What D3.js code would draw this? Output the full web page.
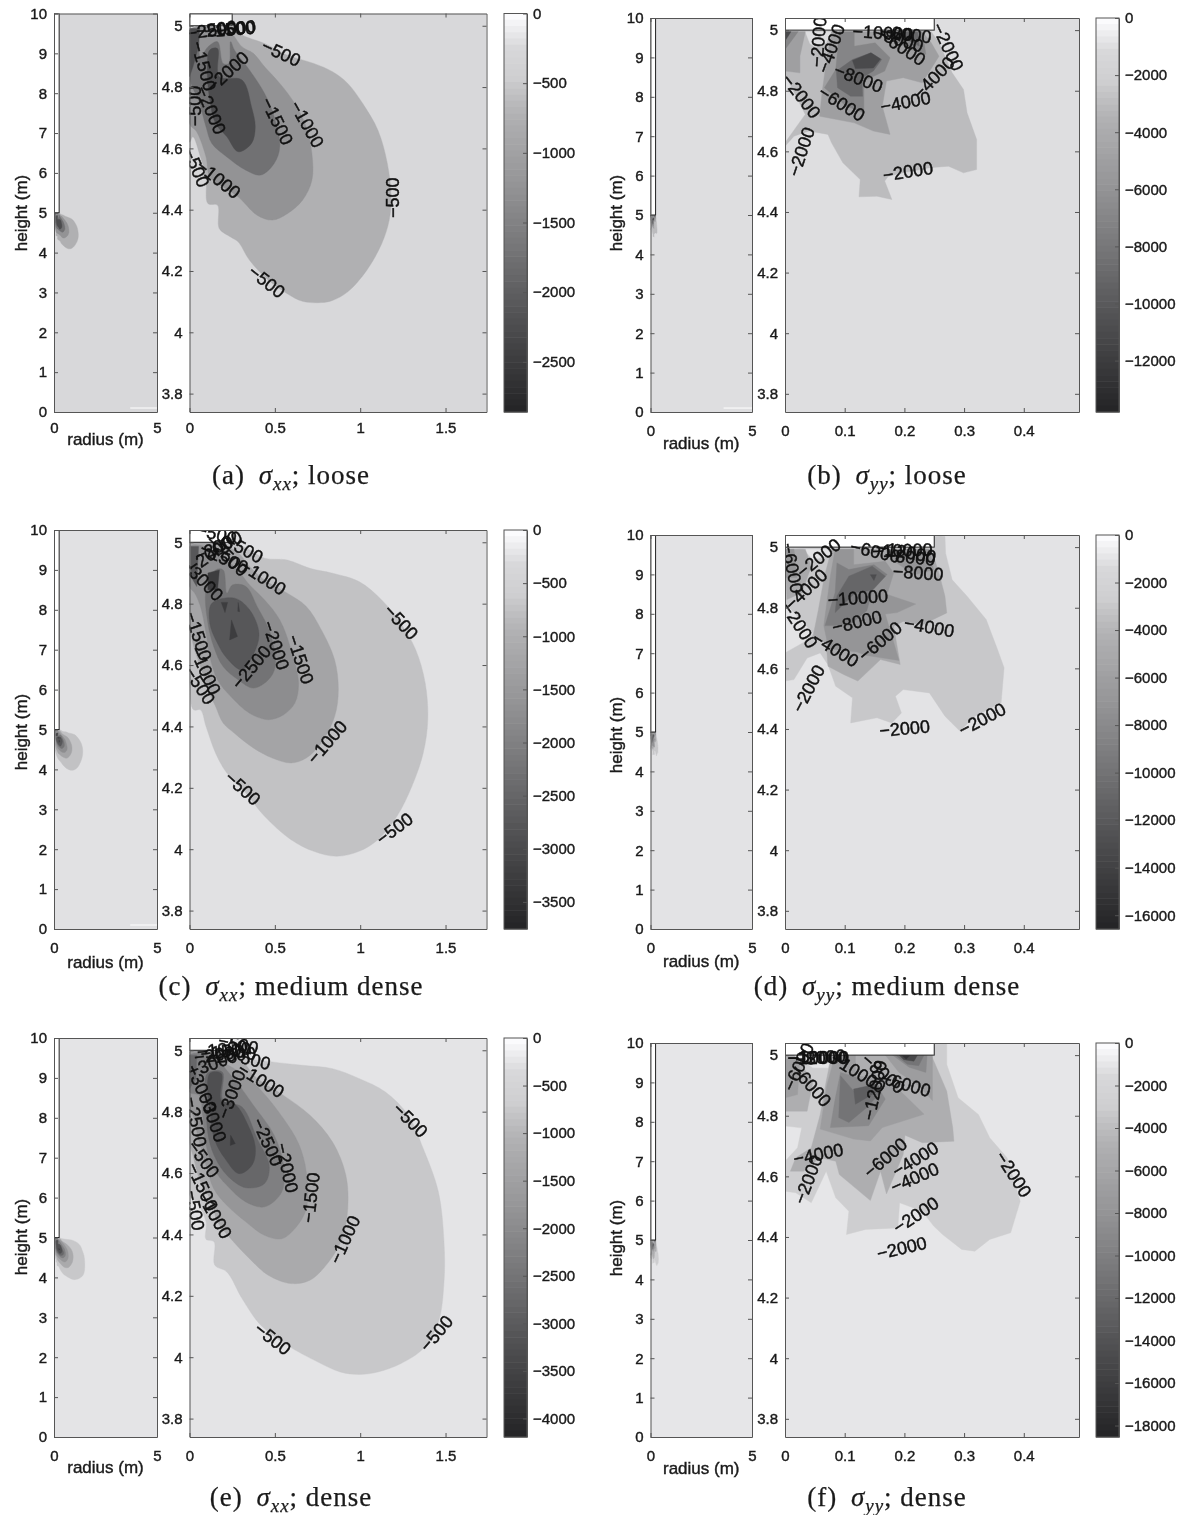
<!DOCTYPE html>
<html lang="en">
<head>
<meta charset="UTF-8">
<title>Stress contours</title>
<style>
  html, body { margin: 0; background: #fff; }
  svg { display: block; filter: blur(0.4px); }
  text { font-family: "Liberation Sans", sans-serif; fill: #1a1a1a; }
  .tick text { font-size: 15px; stroke: #1a1a1a; stroke-width: .4px; }
  .axlabel { font-size: 17px; stroke: #1a1a1a; stroke-width: .4px; }
  .clabel { font-size: 18px; fill: #111; stroke: #111; stroke-width: .45px; }
  .caption, .caption tspan { font-family: "Liberation Serif", serif; font-size: 27px; letter-spacing: 1px; stroke: #222; stroke-width: .25px; }
  .domain, .tick line { stroke: #555; }
</style>
</head>
<body>
<svg id="chart" width="1178" height="1515"></svg>
<script src="https://cdnjs.cloudflare.com/ajax/libs/d3/7.8.5/d3.min.js"></script>
<script>
// contour bands: [level, [[radius, height], ...]]
const bandsA = [
  [-500, [[.246,4.986],[.33,4.964],[.44,4.942],[.573,4.904],[.728,4.877],[.838,4.85],[.927,4.812],[1.015,4.746],[1.104,4.659],[1.159,4.551],[1.181,4.442],[1.17,4.366],[1.126,4.289],[1.038,4.202],[.927,4.132],[.838,4.104],[.772,4.097],[.662,4.101],[.573,4.126],[.462,4.17],[.352,4.235],[.285,4.295],[.241,4.311],[.175,4.338],[.164,4.415],[.108,4.42],[.097,4.507],[.064,4.572],[.02,4.638],[0,4.62],[0,4.986]]],
  [-1000, [[.246,4.975],[.308,4.931],[.374,4.91],[.44,4.866],[.529,4.812],[.617,4.746],[.684,4.67],[.717,4.583],[.717,4.496],[.662,4.431],[.573,4.387],[.485,4.366],[.396,4.382],[.285,4.442],[.197,4.474],[.119,4.507],[.097,4.572],[.042,4.654],[0,4.681],[0,4.986],[.197,4.986]]],
  [-1500, [[.241,4.948],[.263,4.921],[.352,4.855],[.44,4.779],[.496,4.703],[.529,4.605],[.496,4.551],[.418,4.513],[.33,4.529],[.219,4.572],[.131,4.616],[.097,4.67],[.053,4.757],[.009,4.812],[0,4.866],[0,4.986],[.042,4.986],[.064,4.899],[.108,4.931],[.164,4.948],[.197,4.877],[.23,4.877]]],
  [-2000, [[.119,4.921],[.164,4.926],[.175,4.834],[.308,4.823],[.363,4.736],[.385,4.67],[.363,4.616],[.285,4.589],[.219,4.638],[.153,4.681],[.119,4.757],[.104,4.866]]],
  [-2000, [[0,4.991],[.06,4.991],[.053,4.931],[.02,4.866],[0,4.834]]]
];
const bandsB = [
  [-2000, [[.245,4.995],[.258,4.958],[.28,4.859],[.299,4.804],[.305,4.727],[.321,4.639],[.321,4.54],[.299,4.529],[.274,4.551],[.242,4.546],[.198,4.529],[.173,4.518],[.167,4.502],[.179,4.441],[.154,4.452],[.124,4.45],[.126,4.507],[.097,4.562],[.078,4.628],[.072,4.656],[.04,4.667],[.015,4.65],[0,4.617],[0,4.628],[.034,4.722],[0,4.854],[0,4.997]]],
  [0, [[.034,4.995],[.078,4.995],[.069,4.958],[.05,4.945],[.042,4.955]]],
  [-4000, [[.078,4.995],[.23,4.995],[.245,4.958],[.258,4.914],[.23,4.826],[.198,4.843],[.17,4.832],[.163,4.749],[.176,4.656],[.148,4.667],[.116,4.694],[.058,4.716],[.062,4.793],[.069,4.892]]],
  [-4000, [[0,4.995],[.034,4.995],[.025,4.914],[.025,4.859],[0,4.865]]],
  [-6000, [[.091,4.995],[.116,4.995],[.116,4.947],[.151,4.958],[.176,4.909],[.167,4.865],[.132,4.832],[.132,4.727],[.103,4.749],[.066,4.81],[.085,4.87]]],
  [-6000, [[.173,4.995],[.23,4.995],[.236,4.92],[.211,4.936],[.179,4.969]]],
  [-6000, [[0,4.995],[.022,4.995],[0,4.936]]],
  [-8000, [[.113,4.903],[.144,4.925],[.162,4.903],[.148,4.865],[.129,4.843],[.13,4.782],[.11,4.782],[.088,4.81],[.086,4.865]]],
  [-8000, [[.185,4.995],[.222,4.995],[.225,4.947],[.204,4.969]]],
  [-10000, [[.113,4.9],[.144,4.925],[.16,4.905],[.148,4.875],[.118,4.873]]],
  [-10000, [[0,4.995],[.01,4.995],[0,4.964]]]
];
const bandsC = [
  [-500, [[.263,4.997],[.352,4.975],[.44,4.948],[.573,4.942],[.706,4.915],[.838,4.899],[.993,4.872],[1.126,4.812],[1.237,4.736],[1.325,4.65],[1.381,4.541],[1.396,4.422],[1.369,4.313],[1.303,4.205],[1.215,4.107],[1.104,4.031],[.993,3.993],[.861,3.977],[.728,3.993],[.595,4.031],[.44,4.107],[.33,4.183],[.219,4.248],[.153,4.313],[.097,4.4],[.064,4.454],[.024,4.454],[0,4.541],[0,4.997]]],
  [-1000, [[.263,4.975],[.352,4.921],[.44,4.877],[.573,4.834],[.684,4.791],[.772,4.715],[.85,4.617],[.872,4.519],[.85,4.432],[.772,4.346],[.684,4.297],[.595,4.281],[.485,4.297],[.374,4.33],[.263,4.378],[.197,4.411],[.153,4.465],[.108,4.519],[.064,4.595],[.02,4.671],[0,4.758],[0,4.997]]],
  [-1500, [[.263,4.921],[.352,4.861],[.44,4.812],[.529,4.747],[.595,4.65],[.639,4.541],[.617,4.476],[.551,4.438],[.462,4.422],[.352,4.443],[.241,4.498],[.164,4.552],[.119,4.628],[.097,4.704],[.064,4.791],[.031,4.834],[0,4.856],[0,4.986],[.086,4.986]]],
  [-2000, [[.252,4.861],[.33,4.856],[.396,4.791],[.473,4.704],[.502,4.595],[.462,4.552],[.374,4.525],[.285,4.552],[.197,4.595],[.142,4.66],[.108,4.736],[.097,4.845],[.153,4.91],[.197,4.91],[.219,4.834]]],
  [-2500, [[.131,4.801],[.263,4.818],[.352,4.78],[.407,4.704],[.378,4.639],[.308,4.584],[.219,4.622],[.164,4.671],[.119,4.736]]],
  [-2500, [[.009,4.986],[.053,4.986],[.042,4.856],[.009,4.888]]],
  [-3000, [[.186,4.804],[.223,4.804],[.208,4.771]]],
  [-3000, [[.246,4.747],[.281,4.693],[.235,4.682]]],
  [-3000, [[.285,4.804],[.294,4.774],[.283,4.775]]],
  [-3000, [[.108,4.9],[.175,4.91],[.164,4.845],[.108,4.845]]]
];
const bandsD = [
  [-2000, [[.261,5.037],[.268,5.035],[.269,4.98],[.28,4.892],[.305,4.838],[.337,4.761],[.356,4.662],[.367,4.602],[.362,4.486],[.318,4.442],[.293,4.393],[.268,4.442],[.242,4.519],[.198,4.53],[.185,4.508],[.195,4.453],[.179,4.42],[.154,4.437],[.11,4.42],[.113,4.503],[.085,4.541],[.072,4.612],[.059,4.651],[.037,4.634],[.015,4.563],[0,4.558],[0,4.651],[.04,4.695],[.047,4.717],[0,4.816],[0,4.993]]],
  [0, [[.031,4.993],[.085,4.993],[.078,4.975],[.047,4.958]]],
  [-4000, [[.078,4.993],[.245,4.993],[.258,4.914],[.268,4.838],[.271,4.783],[.23,4.744],[.198,4.755],[.182,4.739],[.193,4.613],[.16,4.629],[.122,4.558],[.098,4.58],[.072,4.607],[.069,4.684],[.047,4.706],[.056,4.794],[.066,4.903]]],
  [-4000, [[0,4.993],[.034,4.993],[.044,4.936],[.028,4.849],[.003,4.827]]],
  [-6000, [[.084,4.993],[.115,4.993],[.115,4.942],[.168,4.953],[.182,4.915],[.171,4.844],[.219,4.812],[.188,4.784],[.168,4.779],[.191,4.626],[.135,4.643],[.121,4.654],[.073,4.665],[.065,4.741],[.076,4.904]]],
  [-6000, [[.179,4.993],[.242,4.993],[.249,4.925],[.217,4.909],[.179,4.958]]],
  [-6000, [[0,4.993],[.015,4.993],[.02,4.9],[0,4.9]]],
  [-8000, [[.087,4.948],[.107,4.926],[.149,4.942],[.171,4.91],[.146,4.855],[.137,4.79],[.107,4.741],[.067,4.741],[.084,4.85]]],
  [-10000, [[.107,4.904],[.146,4.937],[.168,4.904],[.146,4.858],[.118,4.85],[.084,4.784],[.087,4.839]]],
  [-12000, [[.143,4.909],[.153,4.909],[.149,4.89]]]
];
const bandsE = [
  [-500, [[.263,4.995],[.352,4.973],[.485,4.962],[.662,4.951],[.838,4.94],[.993,4.908],[1.148,4.864],[1.281,4.788],[1.369,4.68],[1.458,4.539],[1.491,4.376],[1.491,4.245],[1.458,4.115],[1.369,4.028],[1.237,3.979],[1.104,3.952],[.993,3.944],[.883,3.952],[.75,3.985],[.573,4.039],[.418,4.104],[.308,4.191],[.219,4.278],[.148,4.3],[.144,4.376],[.097,4.384],[.097,4.441],[.042,4.506],[0,4.528],[0,4.995]]],
  [-1000, [[.285,4.973],[.396,4.908],[.551,4.853],[.706,4.788],[.838,4.701],[.916,4.593],[.927,4.484],[.894,4.387],[.816,4.311],[.706,4.251],[.595,4.24],[.462,4.267],[.352,4.321],[.241,4.387],[.164,4.441],[.131,4.506],[.064,4.571],[.02,4.658],[0,4.701],[0,4.995]]],
  [-1500, [[.308,4.924],[.418,4.87],[.551,4.777],[.639,4.696],[.684,4.604],[.684,4.484],[.617,4.419],[.54,4.386],[.44,4.397],[.33,4.441],[.219,4.495],[.142,4.549],[.097,4.625],[.053,4.712],[.02,4.788],[0,4.821],[0,4.995]]],
  [-2000, [[.274,4.897],[.374,4.821],[.496,4.723],[.551,4.625],[.54,4.538],[.44,4.49],[.33,4.506],[.219,4.56],[.142,4.615],[.097,4.691],[.075,4.799],[.06,4.853],[0,4.864],[0,4.984],[.131,4.978]]],
  [-2500, [[.104,4.924],[.192,4.929],[.197,4.837],[.308,4.815],[.396,4.712],[.467,4.625],[.44,4.566],[.33,4.552],[.219,4.593],[.153,4.647],[.113,4.712],[.097,4.821]]],
  [-2500, [[0,4.984],[.042,4.984],[.038,4.908],[0,4.875]]],
  [-3000, [[.119,4.924],[.186,4.924],[.186,4.837],[.268,4.823],[.341,4.758],[.385,4.687],[.369,4.628],[.29,4.598],[.208,4.647],[.148,4.707],[.122,4.788]]],
  [-3500, [[.241,4.723],[.268,4.696],[.239,4.69]]]
];
const bandsF = [
  [-2000, [[.261,5.04],[.271,5.04],[.271,4.969],[.29,4.859],[.324,4.804],[.343,4.727],[.372,4.661],[.394,4.518],[.378,4.414],[.343,4.392],[.318,4.353],[.296,4.359],[.264,4.408],[.249,4.436],[.23,4.485],[.192,4.513],[.189,4.43],[.135,4.425],[.103,4.408],[.107,4.485],[.085,4.529],[.069,4.617],[.044,4.513],[.018,4.546],[0,4.551],[0,4.65],[.021,4.694],[.028,4.76],[0,4.766],[0,5]]],
  [0, [[.015,5],[.078,5],[.072,4.958],[.047,4.958]]],
  [-4000, [[.078,5],[.245,5],[.271,4.881],[.281,4.76],[.283,4.716],[.23,4.711],[.201,4.736],[.198,4.672],[.17,4.542],[.16,4.617],[.143,4.52],[.091,4.606],[.085,4.65],[.059,4.661],[.031,4.617],[.009,4.617],[.018,4.661],[.044,4.694],[.059,4.804],[.069,4.914]]],
  [-4000, [[0,5],[.015,5],[.047,4.914],[.037,4.815],[0,4.815]]],
  [-6000, [[.084,5],[.118,5],[.118,4.932],[.173,4.92],[.233,4.805],[.163,4.761],[.143,4.717],[.115,4.723],[.059,4.756],[.07,4.899]]],
  [-6000, [[.168,5],[.247,5],[.247,4.85],[.224,4.899],[.191,4.943]]],
  [-6000, [[0,4.986],[.025,4.986],[.021,4.87],[0,4.859]]],
  [-8000, [[.076,4.761],[.14,4.767],[.168,4.855],[.154,4.899],[.121,4.926],[.093,4.943],[.084,4.855]]],
  [-8000, [[.18,5],[.238,5],[.236,4.943],[.208,4.96]]],
  [-10000, [[.093,4.932],[.115,4.882],[.157,4.899],[.16,4.877],[.137,4.827],[.107,4.778],[.09,4.794]]],
  [-10000, [[.185,5],[.233,5],[.224,4.965],[.205,4.97]]],
  [-12000, [[.115,4.888],[.152,4.904],[.152,4.877],[.118,4.838]]],
  [-14000, [[.191,5],[.222,5],[.216,4.98],[.199,4.985]]],
  [-16000, [[.195,5],[.21,5],[.203,4.987]]]
];

// clabel text: [text, x start, y start, x end, y end]
const labelsA = [
  ["-500",.423,4.939,.65,4.882],["-1000",.613,4.752,.761,4.605],["-1500",.447,4.763,.577,4.614],
  ["-2000",.119,4.795,.329,4.904],["-2000",.075,4.79,.175,4.659],["-1500",.046,4.942,.119,4.795],
  ["-500",1.192,4.376,1.192,4.502],["-500",.352,4.208,.551,4.121],["-1000",.053,4.551,.285,4.447],
  ["-500",.004,4.583,.075,4.491],["-500",.031,4.676,.031,4.801],["-2500",.064,4.98,.197,4.991],
  ["-2000",.108,4.984,.263,4.991],["-1500",.153,4.984,.319,4.991],["-500",.208,4.986,.334,4.995]
];
const labelsB = [
  ["-2000",.001,4.848,.053,4.716],["-2000",.015,4.524,.04,4.672],["-6000",.058,4.802,.132,4.711],
  ["-8000",.083,4.872,.163,4.81],["-4000",.162,4.747,.242,4.777],["-2000",.165,4.52,.247,4.546],
  ["-4000",.225,4.793,.274,4.892],["-2000",.255,5.019,.29,4.87],["-2000",.053,4.887,.059,5.035],
  ["-4000",.064,4.865,.091,5.013],["-10000",.124,4.995,.204,4.986],["-8000",.154,4.991,.227,4.947],
  ["-6000",.167,4.98,.227,4.903],["-8000",.179,4.991,.227,4.98]
];
const labelsC = [
  ["-500",1.153,4.791,1.325,4.688],["-1000",.71,4.286,.905,4.411],["-500",.215,4.245,.407,4.15],
  ["-500",1.104,4.026,1.299,4.107],["-1500",.602,4.698,.695,4.539],["-2000",.458,4.742,.551,4.587],
  ["-2500",.285,4.541,.44,4.644],["-1500",.004,4.771,.097,4.617],["-1000",.042,4.644,.142,4.519],
  ["-500",0,4.584,.119,4.481],["-500",.064,5.04,.252,5.013],["-1000",.33,4.921,.529,4.85],
  ["-500",.219,5.008,.418,4.948],["-2000",.064,4.959,.274,5.013],["-1500",.097,4.975,.308,4.921],
  ["-2000",.02,4.921,.219,4.997],["-2500",.142,4.997,.296,4.915],["-3000",.009,4.915,.142,4.839]
];
const labelsD = [
  ["-2000",.02,4.459,.059,4.607],["-2000",.159,4.393,.242,4.409],["-2000",.293,4.393,.368,4.47],
  ["-4000",.2,4.75,.283,4.722],["-6000",.126,4.634,.193,4.744],["-8000",.079,4.733,.162,4.772],
  ["-10000",.072,4.824,.172,4.84],["-4000",.053,4.7,.116,4.623],["-2000",.001,4.81,.047,4.673],
  ["-4000",.009,4.81,.062,4.909],["-2000",.025,4.914,.088,5.013],["-6000",.004,5.013,.02,4.849],
  ["-6000",.117,5,.185,4.969],["-10000",.148,4.986,.245,4.991],["-8000",.167,4.975,.252,4.958],
  ["-12000",.16,4.997,.245,4.969],["-8000",.182,4.92,.264,4.909]
];
const labelsE = [
  ["-500",1.204,4.821,1.381,4.723],["-500",1.365,4.023,1.529,4.131],["-500",.389,4.102,.584,4.017],
  ["-1000",.85,4.308,.971,4.457],["-1500",.695,4.441,.728,4.598],["-2000",.54,4.693,.6,4.541],
  ["-2500",.396,4.777,.518,4.625],["-1000",.308,4.94,.529,4.864],["-500",.263,4.984,.451,4.957],
  ["-3000",.197,4.783,.296,4.929],["-3000",.097,4.843,.175,4.718],["-3000",.009,4.951,.131,4.799],
  ["-2500",.009,4.843,.064,4.691],["-500",.02,4.691,.142,4.598],["-1500",.031,4.609,.119,4.501],
  ["-1000",.086,4.522,.208,4.403],["-500",.009,4.544,.053,4.414],["-500",.219,5.027,.352,5.011],
  ["-1000",.075,4.995,.308,5.011],["-1500",.097,4.989,.33,5.005],["-2000",.064,4.978,.285,4.995],
  ["-2500",.131,4.978,.352,4.989],["-3000",.053,4.94,.219,4.973]
];
const labelsF = [
  ["-2000",.359,4.678,.406,4.535],["-2000",.184,4.425,.255,4.518],["-2000",.155,4.344,.236,4.381],
  ["-4000",.182,4.612,.255,4.7],["-4000",.179,4.562,.256,4.628],["-6000",.136,4.606,.201,4.716],
  ["-4000",.015,4.656,.097,4.689],["-2000",.025,4.518,.053,4.661],["-6000",.006,4.887,.04,5.035],
  ["-6000",.025,4.942,.062,4.859],["-10000",.009,4.991,.104,4.991],["-12000",.018,4.991,.091,4.991],
  ["-8000",.025,4.986,.094,4.997],["-10000",.091,4.98,.154,4.903],["-12000",.141,4.799,.16,4.969],
  ["-8000",.134,4.991,.195,4.887],["-6000",.163,4.925,.242,4.881]
];

// thin white gaps along the bottom of the overview axes: [r0, r1, height]
const gapA = [3.7, 5, .1];
const gapB = [3.6, 5, .1];
const gapC = [3.7, 5, .1];

const ticksXX = [0, .5, 1, 1.5];
const ticksYY = [0, .1, .2, .3, .4];
const ticksHeight = [3.8, 4, 4.2, 4.4, 4.6, 4.8, 5];
const ticksFull = [0, 1, 2, 3, 4, 5, 6, 7, 8, 9, 10];
const ticksBarA = [0, -500, -1000, -1500, -2000, -2500];
const ticksBarB = [0, -2000, -4000, -6000, -8000, -10000, -12000];
const ticksBarC = [0, -500, -1000, -1500, -2000, -2500, -3000, -3500];
const ticksBarD = [0, -2000, -4000, -6000, -8000, -10000, -12000, -14000, -16000];
const ticksBarE = [0, -500, -1000, -1500, -2000, -2500, -3000, -3500, -4000];
const ticksBarF = [0, -2000, -4000, -6000, -8000, -10000, -12000, -14000, -16000, -18000];

const svg = d3.select("#chart");

// tone curve of the printed grey colormap
const tone = d3.scaleLinear()
  .domain([0, .054, .087, .16, .18, .217, .26, .437, .61, .787, 1])
  .range([255, 230, 216, 207, 200, 188, 176, 147, 113, 76, 35]);
const grey = t => { const v = Math.round(tone(t)); return `rgb(${v},${v},${v + 2})`; };

const colL = { x: 54, w: 103, mid: 189.5, midW: 297, bar: 504, barW: 23, xmax: 1.74 };
const colR = { x: 650.5, w: 101.5, mid: 785, midW: 294, bar: 1096, barW: 23, xmax: .4925 };

const panels = [
  { id: "a", col: colL, top: 13.5, bot: 412, bands: bandsA, labels: labelsA, ticks: ticksXX, bar: ticksBarA, min: -2860, step: 500, gap: gapA, smooth: true, tickY: 15, radY: 27, hx: 21, hy: 213, cx: 291, cy: 484, tag: "(a)", sub: "xx", tail: "; loose" },
  { id: "b", col: colR, top: 18, bot: 412, bands: bandsB, labels: labelsB, ticks: ticksYY, bar: ticksBarB, min: -13800, step: 2000, gap: gapB, tickY: 18, radY: 31, hx: 616, hy: 213, cx: 887, cy: 484, tag: "(b)", sub: "yy", tail: "; loose" },
  { id: "c", col: colL, top: 530, bot: 929, bands: bandsC, labels: labelsC, ticks: ticksXX, bar: ticksBarC, min: -3755, step: 500, gap: gapC, smooth: true, tickY: 18, radY: 33, hx: 21, hy: 732, cx: 291, cy: 995, tag: "(c)", sub: "xx", tail: "; medium dense" },
  { id: "d", col: colR, top: 535, bot: 929, bands: bandsD, labels: labelsD, ticks: ticksYY, bar: ticksBarD, min: -16580, step: 2000, tickY: 18, radY: 32, hx: 616, hy: 735, cx: 887, cy: 995, tag: "(d)", sub: "yy", tail: "; medium dense" },
  { id: "e", col: colL, top: 1038, bot: 1437, bands: bandsE, labels: labelsE, ticks: ticksXX, bar: ticksBarE, min: -4195, step: 500, smooth: true, tickY: 18, radY: 30, hx: 21, hy: 1237, cx: 291, cy: 1506, tag: "(e)", sub: "xx", tail: "; dense" },
  { id: "f", col: colR, top: 1043, bot: 1437, bands: bandsF, labels: labelsF, ticks: ticksYY, bar: ticksBarF, min: -18540, step: 2000, tickY: 18, radY: 31, hx: 616, hy: 1238, cx: 887, cy: 1506, tag: "(f)", sub: "yy", tail: "; dense" }
];

const minus = v => String(v).replace("-", "\u2212");

function frame(g, x, y, xticks, yticks, bottomDy) {
  const [x0, x1] = x.range(), [y1, y0] = y.range();
  g.append("g").attr("transform", `translate(0,${y1})`)
    .call(d3.axisBottom(x).tickValues(xticks).tickSizeInner(-4).tickSizeOuter(0).tickPadding(bottomDy).tickFormat(String))
    .call(a => a.selectAll("text").attr("dy", 0).attr("dominant-baseline", "central"));
  g.append("g").attr("transform", `translate(0,${y0})`)
    .call(d3.axisTop(x).tickValues(xticks).tickSizeInner(-4).tickSizeOuter(0).tickFormat(""));
  g.append("g").attr("transform", `translate(${x0},0)`)
    .call(d3.axisLeft(y).tickValues(yticks).tickSizeInner(-4).tickSizeOuter(0).tickPadding(7).tickFormat(String));
  g.append("g").attr("transform", `translate(${x1},0)`)
    .call(d3.axisRight(y).tickValues(yticks).tickSizeInner(-4).tickSizeOuter(0).tickFormat(""));
}

function drawField(g, p, x, y, clipId) {
  const [x0, x1] = x.range(), [y1, y0] = y.range();
  const [dx0] = x.domain(), [, dy1] = y.domain();
  g.append("clipPath").attr("id", clipId).append("rect")
    .attr("x", x0).attr("y", y0).attr("width", x1 - x0).attr("height", y1 - y0);
  const c = g.append("g").attr("clip-path", `url(#${clipId})`);
  const fill = lev => grey(-(lev - p.step / 2) / -p.min);
  c.append("rect").attr("x", x0).attr("y", y0).attr("width", x1 - x0).attr("height", y1 - y0)
    .attr("fill", fill(0));
  const line = d3.line().x(d => x(d[0])).y(d => y(d[1]));
  const round = d3.line().x(d => x(d[0])).y(d => y(d[1])).curve(d3.curveCatmullRomClosed.alpha(.5));
  c.selectAll("path.band").data(p.bands).enter().append("path")
    .attr("class", "band")
    .attr("d", d => (p.smooth && d[1].length > 8) ? round(d[1]) : line(d[1]) + "Z")
    .attr("fill", d => fill(d[0]))
    .attr("stroke", d => fill(d[0]))
    .attr("stroke-width", .4);
  // the pile: white box from radius 0 to 0.25, above height 5
  c.append("rect").attr("x", x(dx0)).attr("y", y(dy1))
    .attr("width", x(.25) - x(dx0)).attr("height", y(5) - y(dy1))
    .attr("fill", "#fff").attr("stroke", "#222").attr("stroke-width", 1);
  return c;
}

panels.forEach(p => {
  const c = p.col, g = svg.append("g");

  // left overview, full domain
  const xl = d3.scaleLinear().domain([0, 5]).range([c.x, c.x + c.w]);
  const yl = d3.scaleLinear().domain([0, 10]).range([p.bot, p.top]);
  const over = drawField(g, p, xl, yl, "clipL" + p.id);
  if (p.gap) {
    over.append("line").attr("x1", xl(p.gap[0])).attr("x2", xl(p.gap[1]))
      .attr("y1", yl(p.gap[2])).attr("y2", yl(p.gap[2]))
      .attr("stroke", "#fff").attr("stroke-width", 1);
  }
  frame(g, xl, yl, [0, 5], ticksFull, p.tickY);

  // middle, zoomed on the pile tip
  const xm = d3.scaleLinear().domain([0, c.xmax]).range([c.mid, c.mid + c.midW]);
  const ym = d3.scaleLinear().domain([3.74, 5.04]).range([p.bot, p.top]);
  const field = drawField(g, p, xm, ym, "clipM" + p.id);
  field.selectAll("text").data(p.labels).enter().append("text")
    .attr("class", "clabel")
    .attr("text-anchor", "middle")
    .attr("dominant-baseline", "central")
    .attr("transform", d => {
      const a = [xm(d[1]), ym(d[2])], b = [xm(d[3]), ym(d[4])];
      const ang = Math.atan2(b[1] - a[1], b[0] - a[0]) * 180 / Math.PI;
      return `translate(${(a[0] + b[0]) / 2},${(a[1] + b[1]) / 2}) rotate(${ang})`;
    })
    .text(d => minus(d[0]));
  frame(g, xm, ym, p.ticks, ticksHeight, p.tickY);

  // colorbar
  const yb = d3.scaleLinear().domain([p.min, 0]).range([p.bot, p.top]);
  const steps = d3.range(64);
  const cell = (p.bot - p.top) / 64;
  g.append("g").selectAll("rect").data(steps).enter().append("rect")
    .attr("x", c.bar).attr("width", c.barW)
    .attr("y", i => p.top + i * cell).attr("height", cell + .5)
    .attr("fill", i => grey((i + .5) / 64));
  g.append("rect").attr("x", c.bar).attr("y", p.top).attr("width", c.barW)
    .attr("height", p.bot - p.top).attr("fill", "none").attr("stroke", "#555");
  g.append("g").attr("transform", `translate(${c.bar + c.barW},0)`)
    .call(d3.axisRight(yb).tickValues(p.bar).tickSizeInner(-4).tickSizeOuter(0).tickPadding(6).tickFormat(minus));

  g.append("text").attr("class", "axlabel").attr("text-anchor", "middle")
    .attr("dominant-baseline", "central")
    .attr("x", c.x + c.w / 2).attr("y", p.bot + p.radY).text("radius (m)");
  g.append("text").attr("class", "axlabel").attr("text-anchor", "middle")
    .attr("dominant-baseline", "central")
    .attr("transform", `translate(${p.hx},${p.hy}) rotate(-90)`).text("height (m)");

  const cap = g.append("text").attr("class", "caption").attr("text-anchor", "middle")
    .attr("x", p.cx).attr("y", p.cy);
  cap.append("tspan").text(p.tag + " ");
  cap.append("tspan").attr("font-style", "italic").attr("dx", 6).text("\u03c3");
  cap.append("tspan").attr("font-style", "italic").attr("dy", 6).style("font-size", "19px").text(p.sub);
  cap.append("tspan").attr("dy", -6).text(p.tail);
});
</script>
</body>
</html>
